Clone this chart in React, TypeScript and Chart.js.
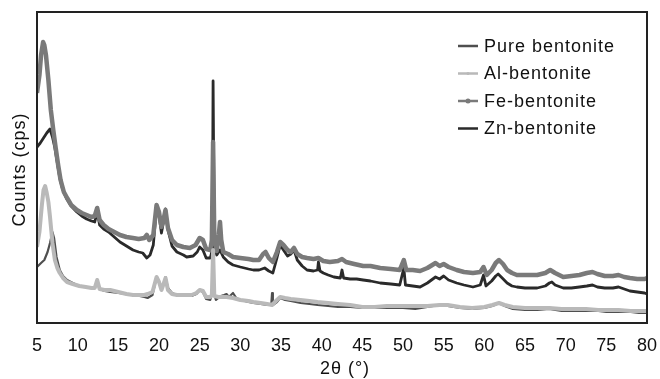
import React, { useEffect, useRef } from "react";
import { Chart, registerables } from "chart.js";

Chart.register(...registerables);

const xMin = 5;
const xMax = 80;
const xStep = 5;
const seriesNames = ["Pure bentonite", "Al-bentonite", "Fe-bentonite", "Zn-bentonite"];
const xTitle = "2θ (°)";
const yTitle = "Counts (cps)";

// [2θ, counts (relative)]
const pureBentonite: [number, number][] = [
  [5.0, 56], [5.5, 60], [5.9, 63], [6.3, 71], [6.6, 80], [6.9, 91], [7.1, 85], [7.4, 66], [7.8, 53], [8.2, 47],
  [8.7, 43], [9.4, 40], [10.2, 37], [11.0, 36], [11.7, 35], [12.1, 35], [12.4, 43], [12.7, 34], [13.3, 32], [14.0, 31],
  [15.0, 30], [16.0, 29], [16.8, 28], [17.6, 27], [18.2, 26], [18.6, 25], [19.2, 28], [19.7, 46], [20.0, 41], [20.3, 35],
  [20.6, 40], [20.8, 46], [21.1, 35], [21.6, 30], [22.2, 28], [23.0, 27], [24.0, 27], [24.6, 29], [25.0, 33], [25.4, 31],
  [25.8, 24], [26.3, 23], [26.65, 33], [27.0, 23], [27.6, 27], [28.0, 28], [28.3, 29], [28.6, 26], [29.1, 30], [29.5, 25],
  [30.0, 23], [31.0, 21], [31.6, 20], [32.5, 19], [33.3, 18], [33.8, 18], [33.9, 30], [34.0, 18], [34.5, 21], [34.9, 25],
  [35.5, 23], [36.2, 22], [37.4, 20], [38.5, 19], [39.5, 18], [40.8, 17], [42.0, 16], [43.5, 16], [45.0, 15], [46.5, 15],
  [48.0, 15], [50.0, 15], [51.5, 14], [53.0, 16], [54.5, 18], [55.5, 17], [57.0, 15], [58.5, 14], [60.0, 15], [61.0, 17],
  [61.8, 20], [62.5, 17], [63.5, 14], [65.0, 13], [66.5, 13], [68.0, 14], [69.5, 12], [71.0, 12], [72.5, 12], [74.0, 12],
  [75.0, 11], [76.5, 11], [78.0, 11], [79.0, 10], [80.0, 10],
];

const alBentonite: [number, number][] = [
  [5.0, 76], [5.3, 91], [5.6, 118], [5.8, 133], [6.0, 137], [6.2, 130], [6.4, 121], [6.6, 106], [6.9, 80], [7.2, 63],
  [7.5, 55], [7.8, 50], [8.2, 45], [8.7, 41], [9.4, 39], [10.2, 37], [11.0, 36], [11.7, 35], [12.1, 35], [12.4, 43],
  [12.7, 34], [13.3, 33], [14.0, 33], [15.0, 31], [16.0, 29], [16.8, 28], [17.6, 28], [18.2, 28], [18.6, 29], [19.2, 31],
  [19.7, 46], [20.0, 41], [20.3, 33], [20.6, 40], [20.8, 45], [21.1, 33], [21.6, 29], [22.2, 28], [23.0, 28], [24.0, 28],
  [24.6, 30], [25.0, 33], [25.4, 32], [25.8, 26], [26.3, 26], [26.5, 28], [26.65, 73], [26.8, 27], [27.3, 26], [28.3, 26],
  [29.1, 25], [30.0, 23], [31.0, 22], [31.6, 21], [32.5, 20], [33.3, 19], [33.9, 18], [34.5, 23], [34.9, 26], [35.5, 25],
  [36.2, 24], [37.4, 23], [38.5, 22], [39.5, 21], [40.8, 20], [42.0, 19], [43.5, 18], [45.0, 16], [46.5, 16], [48.0, 17],
  [50.0, 17], [51.5, 17], [53.0, 17], [54.5, 18], [55.5, 18], [57.0, 16], [58.5, 15], [60.0, 16], [61.0, 18], [61.8, 20],
  [62.5, 18], [63.5, 16], [65.0, 15], [66.5, 15], [68.0, 15], [69.5, 14], [71.0, 14], [72.5, 14], [74.0, 13], [75.0, 13],
  [76.5, 13], [78.0, 12], [79.0, 12], [80.0, 12],
];

const feBentonite: [number, number][] = [
  [5.0, 230], [5.3, 248], [5.5, 268], [5.75, 281], [5.9, 278], [6.1, 268], [6.4, 243], [6.7, 213], [7.0, 193], [7.3, 175],
  [7.6, 158], [7.9, 143], [8.3, 131], [8.7, 125], [9.2, 118], [9.9, 113], [10.5, 110], [11.1, 108], [11.7, 106], [12.1, 107],
  [12.4, 115], [12.7, 103], [13.2, 98], [13.8, 94], [14.5, 91], [15.2, 88], [16.0, 86], [16.8, 85], [17.5, 84], [18.2, 85],
  [18.5, 88], [18.8, 83], [19.3, 88], [19.7, 118], [20.0, 111], [20.3, 96], [20.6, 105], [20.8, 113], [21.1, 95], [21.6, 83],
  [22.2, 78], [23.0, 76], [23.8, 75], [24.5, 78], [25.0, 85], [25.4, 83], [25.8, 74], [26.3, 73], [26.5, 83], [26.65, 181],
  [26.8, 83], [27.1, 72], [27.35, 88], [27.5, 101], [27.65, 83], [27.9, 71], [28.5, 69], [29.1, 66], [30.0, 65], [31.0, 64],
  [31.6, 63], [32.3, 63], [32.8, 69], [33.1, 71], [33.5, 65], [34.0, 61], [34.5, 71], [34.9, 81], [35.3, 78], [35.8, 73],
  [36.2, 71], [36.6, 75], [37.0, 69], [37.6, 66], [38.2, 65], [39.0, 64], [39.6, 65], [40.2, 62], [41.0, 61], [42.0, 62],
  [42.5, 64], [43.0, 61], [44.0, 59], [45.1, 57], [46.0, 57], [47.2, 55], [48.5, 54], [49.6, 53], [50.1, 63], [50.4, 53],
  [51.2, 53], [52.1, 52], [53.0, 55], [54.0, 60], [54.5, 57], [55.0, 59], [55.6, 56], [56.6, 53], [57.5, 51], [58.6, 50],
  [59.5, 51], [59.9, 56], [60.3, 48], [60.9, 53], [61.4, 60], [61.8, 63], [62.3, 59], [62.8, 53], [63.4, 50], [64.0, 48],
  [65.0, 48], [66.5, 48], [67.5, 50], [68.1, 53], [68.7, 50], [69.7, 46], [70.7, 47], [71.7, 48], [72.6, 50], [73.3, 51],
  [73.9, 49], [74.8, 47], [75.8, 47], [76.5, 48], [77.2, 46], [77.9, 45], [78.8, 44], [79.7, 44], [80.0, 45],
];

const znBentonite: [number, number][] = [
  [5.0, 176], [5.4, 180], [5.8, 185], [6.2, 190], [6.6, 194], [6.9, 186], [7.2, 175], [7.5, 160], [7.8, 145], [8.1, 135],
  [8.6, 125], [9.2, 117], [9.9, 111], [10.5, 107], [11.1, 104], [11.7, 102], [12.1, 101], [12.4, 111], [12.7, 98], [13.2, 94],
  [13.8, 91], [14.5, 86], [15.2, 81], [16.0, 77], [16.8, 73], [17.5, 71], [18.0, 70], [18.5, 65], [18.9, 68], [19.3, 78],
  [19.7, 116], [20.0, 108], [20.3, 90], [20.6, 103], [20.8, 114], [21.1, 93], [21.6, 77], [22.2, 71], [23.0, 68], [23.4, 66],
  [24.2, 67], [24.7, 71], [25.0, 76], [25.4, 73], [25.8, 65], [26.3, 65], [26.55, 73], [26.65, 242], [26.8, 75], [27.1, 68],
  [27.5, 73], [27.9, 66], [28.5, 61], [29.1, 58], [30.0, 56], [31.0, 54], [31.6, 53], [32.3, 53], [33.0, 55], [33.5, 52],
  [34.0, 50], [34.5, 65], [34.9, 78], [35.3, 73], [35.8, 67], [36.2, 69], [36.6, 73], [37.0, 63], [37.6, 57], [38.2, 53],
  [39.0, 52], [39.5, 53], [39.6, 61], [39.8, 52], [40.2, 50], [40.8, 48], [41.5, 46], [42.3, 45], [42.5, 53], [42.7, 45],
  [43.5, 44], [44.3, 44], [45.1, 43], [46.0, 42], [47.2, 40], [48.5, 39], [49.6, 38], [50.1, 55], [50.3, 38], [51.2, 37],
  [52.1, 36], [53.0, 40], [54.0, 46], [54.5, 44], [55.0, 47], [55.6, 43], [56.6, 40], [57.5, 38], [58.6, 36], [59.5, 38],
  [59.9, 48], [60.2, 37], [60.9, 42], [61.4, 47], [61.7, 49], [62.2, 45], [62.8, 40], [63.4, 37], [64.0, 36], [65.0, 35],
  [66.5, 35], [67.5, 37], [68.0, 40], [68.3, 41], [68.7, 38], [69.7, 35], [70.7, 35], [71.7, 36], [72.6, 37], [73.3, 38],
  [73.9, 36], [74.8, 35], [75.8, 35], [76.5, 36], [77.2, 34], [77.9, 32], [78.8, 31], [79.7, 30], [80.0, 29],
];

const yMin = 0;
const yMax = 311;

const seriesData = [pureBentonite, alBentonite, feBentonite, znBentonite];
const seriesColors = ["#4f4f4f", "#b9b9b9", "#7a7a7a", "#2a2a2a"];
const seriesWidths = [2.2, 4, 4.5, 2.8];
const seriesOrder = [3, 1, 2, 4];

const FONT = "'Liberation Sans', Arial, Helvetica, sans-serif";

const decorPlugin = {
  id: "decor",
  afterDraw(chart: any) {
    const { ctx, chartArea } = chart;
    const { left, top, right, bottom } = chartArea;
    ctx.save();
    // frame
    ctx.strokeStyle = "#222";
    ctx.lineWidth = 2;
    ctx.strokeRect(left, top, right - left, bottom - top);

    ctx.fillStyle = "#111";
    (ctx as any).letterSpacing = "1px";
    // x title
    ctx.font = `18px ${FONT}`;
    ctx.textAlign = "center";
    ctx.textBaseline = "middle";
    ctx.fillText(xTitle, (left + right) / 2 + 3, 369);
    // y title
    ctx.save();
    ctx.translate(20, (top + bottom) / 2 + 2);
    ctx.rotate(-Math.PI / 2);
    ctx.fillText(yTitle, 0, 0);
    ctx.restore();

    // legend
    const lx0 = 458;
    const lx1 = 478;
    const rowY = [46, 73.5, 101, 128.5];
    ctx.textAlign = "left";
    for (let i = 0; i < seriesNames.length; i++) {
      const y = rowY[i];
      ctx.strokeStyle = seriesColors[i];
      ctx.lineWidth = 2.5;
      ctx.beginPath();
      ctx.moveTo(lx0, y);
      ctx.lineTo(lx1, y);
      ctx.stroke();
      if (i === 1 || i === 2) {
        ctx.fillStyle = seriesColors[i];
        ctx.beginPath();
        ctx.arc((lx0 + lx1) / 2, y, i === 2 ? 2.5 : 1.5, 0, Math.PI * 2);
        ctx.fill();
      }
      ctx.fillStyle = "#111";
      ctx.fillText(seriesNames[i], 484, y + 1);
    }
    ctx.restore();
  },
};

export default function App() {
  const canvasRef = useRef<HTMLCanvasElement | null>(null);

  useEffect(() => {
    document.body.style.margin = "0";
    const canvas = canvasRef.current;
    if (!canvas) return;
    const chart = new Chart(canvas, {
      type: "line",
      data: {
        datasets: seriesNames.map((name, i) => ({
          label: name,
          data: seriesData[i].map(([x, y]) => ({ x, y })),
          borderColor: seriesColors[i],
          backgroundColor: seriesColors[i],
          borderWidth: seriesWidths[i],
          pointRadius: 0,
          tension: 0,
          fill: false,
          order: seriesOrder[i],
          borderJoinStyle: "round" as const,
        })),
      },
      options: {
        animation: false,
        responsive: false,
        devicePixelRatio: 1,
        layout: { padding: { top: 12, right: 13, left: 0, bottom: 0 } },
        plugins: {
          legend: { display: false },
          tooltip: { enabled: false },
        },
        scales: {
          x: {
            type: "linear",
            min: xMin,
            max: xMax,
            grid: { display: false, drawTicks: false },
            border: { display: false },
            ticks: {
              stepSize: xStep,
              autoSkip: false,
              maxRotation: 0,
              padding: 12,
              color: "#111",
              font: { family: FONT, size: 18 },
              callback: (v: any) => String(v),
            },
            afterFit: (s: any) => {
              s.height = 56;
              s.paddingLeft = 0;
              s.paddingRight = 0;
            },
          },
          y: {
            type: "linear",
            min: yMin,
            max: yMax,
            grid: { display: false, drawTicks: false },
            border: { display: false },
            ticks: { display: false },
            afterFit: (s: any) => {
              s.width = 37;
              s.paddingTop = 0;
              s.paddingBottom = 0;
            },
          },
        },
      },
      plugins: [decorPlugin],
    });
    return () => chart.destroy();
  }, []);

  return (
    <div style={{ width: 660, height: 379, background: "#fff" }}>
      <canvas ref={canvasRef} width={660} height={379} style={{ display: "block" }} />
    </div>
  );
}
